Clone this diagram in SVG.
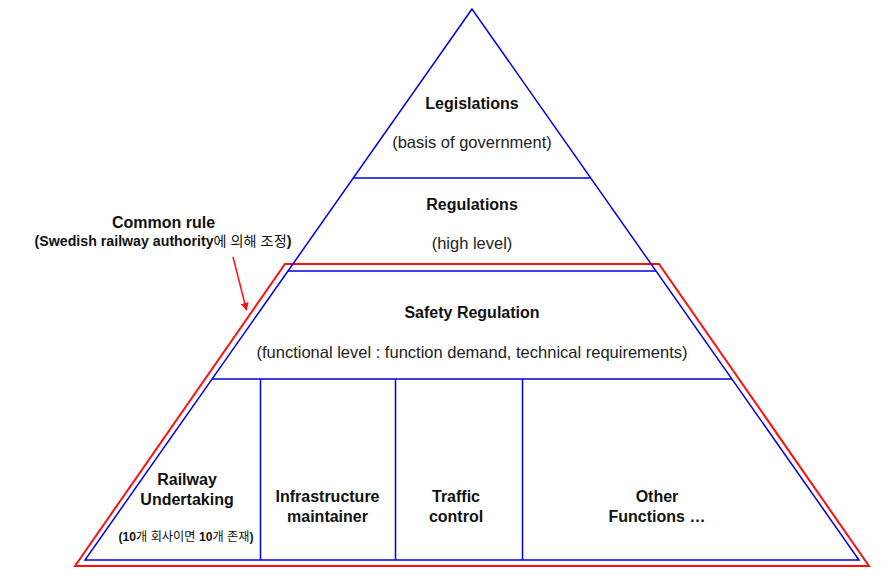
<svg xmlns="http://www.w3.org/2000/svg" width="895" height="586" viewBox="0 0 895 586">
<defs>
<style>
.b{fill:none;stroke:#0000e0;stroke-width:1.5}
.r{fill:none;stroke:#ff1010;stroke-width:2}
text{font-family:"Liberation Sans","Noto Sans CJK KR",Arial,sans-serif;fill:#111;text-anchor:middle}
.t{font-size:16px;font-weight:bold}
.s{font-size:16.5px;fill:#222}
.k{font-size:14.2px;font-weight:bold}
.kr{font-weight:normal}
</style>
<marker id="ah" viewBox="0 0 10 10" refX="9" refY="5" markerWidth="8" markerHeight="8" markerUnits="userSpaceOnUse" orient="auto">
<path d="M0,0 L10,5 L0,10 z" fill="#ff1010"/>
</marker>
</defs>
<rect width="895" height="586" fill="#fff"/>
<g id="common-rule-frame">
<polygon class="r" points="285,264 659,264 869,566 75,566"/>
</g>
<g id="pyramid">
<polygon class="b" points="472,9 85,560 859,560"/>
</g>
<g id="legislations">
<line class="b" x1="353" y1="178" x2="591" y2="178"/>
<text class="t" x="472" y="109">Legislations</text>
<text class="s" x="472" y="148">(basis of government)</text>
</g>
<g id="regulations">
<line class="b" x1="288" y1="271" x2="656" y2="271"/>
<text class="t" x="472" y="210">Regulations</text>
<text class="s" x="472" y="249">(high level)</text>
</g>
<g id="safety-regulation">
<line class="b" x1="212" y1="379" x2="732" y2="379"/>
<text class="t" x="472" y="318">Safety Regulation</text>
<text class="s" x="472" y="358">(functional level : function demand, technical requirements)</text>
</g>
<g id="railway-undertaking">
<line class="b" x1="260.5" y1="379" x2="260.5" y2="560"/>
<text class="t" x="187" y="485">Railway</text>
<text class="t" x="187" y="505">Undertaking</text>
<text class="k" x="186" y="541" style="font-size:12.2px">(10<tspan class="kr">개 회사이면 </tspan>10<tspan class="kr">개 존재</tspan>)</text>
</g>
<g id="infrastructure-maintainer">
<line class="b" x1="395.5" y1="379" x2="395.5" y2="560"/>
<text class="t" x="327.5" y="502">Infrastructure</text>
<text class="t" x="327.5" y="522">maintainer</text>
</g>
<g id="traffic-control">
<line class="b" x1="522.5" y1="379" x2="522.5" y2="560"/>
<text class="t" x="456" y="502">Traffic</text>
<text class="t" x="456" y="522">control</text>
</g>
<g id="other-functions">
<text class="t" x="657" y="502">Other</text>
<text class="t" x="657" y="522">Functions …</text>
</g>
<g id="common-rule">
<text class="t" x="163.5" y="228">Common rule</text>
<text class="k" x="163" y="246">(Swedish railway authority<tspan class="kr">에 의해 조정</tspan>)</text>
</g>
<g id="connectors">
<line x1="233" y1="257" x2="246.5" y2="310" stroke="#ff1010" stroke-width="1.5" marker-end="url(#ah)"/>
</g>
</svg>
